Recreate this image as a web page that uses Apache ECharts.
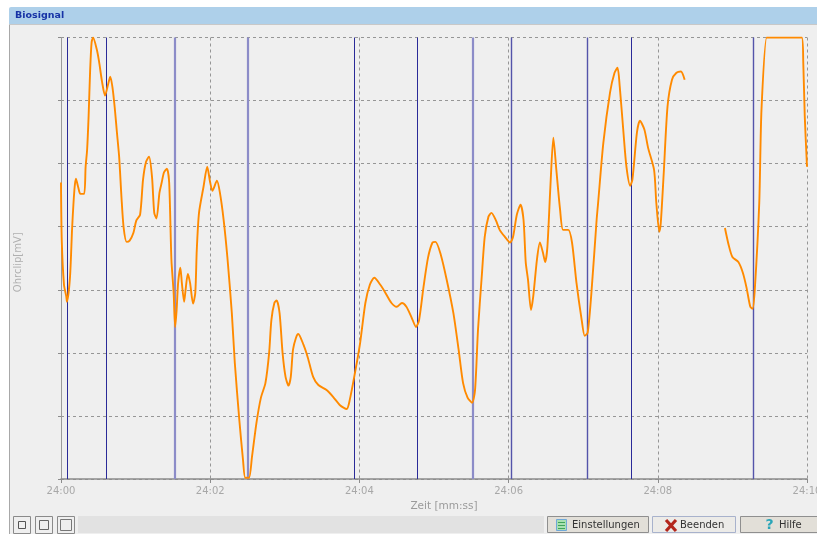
<!DOCTYPE html>
<html><head><meta charset="utf-8">
<style>html,body{margin:0;padding:0;background:#fff}#c{width:817px;height:534px}</style>
<script src="https://cdn.jsdelivr.net/npm/echarts@6/dist/echarts.min.js"></script>
</head><body><div id="c"></div>
<script>
const title = 'Biosignal';
const xAxisName = 'Zeit [mm:ss]';
const yAxisName = 'Ohrclip[mV]';
const buttonLabels = ['Einstellungen', 'Beenden', 'Hilfe'];
const timeSeconds = [
0,.01,.04,.07,.08,.12,.15,.18,.20,.23,.26,.31,.33,.35,.37,.39,.41,.43,.48,.51,.55,.59,.63,.66,.69,.72,.75,.78,.81,.84,.88,.92,.97,
1.01,1.06,1.10,1.14,1.18,1.22,1.25,1.28,1.32,1.35,1.38,1.42,1.45,1.48,1.51,1.53,1.55,1.57,1.60,1.62,1.65,1.67,1.70,1.73,1.77,1.80,1.82,1.85,1.91,1.96,
2.00,2.03,2.09,2.13,2.18,2.23,2.29,2.33,2.39,2.44,2.47,2.52,2.56,2.62,2.68,2.74,2.79,2.82,2.86,2.89,2.93,2.97,
3.01,3.05,3.08,3.11,3.15,3.18,3.25,3.31,3.38,3.45,3.56,3.65,3.74,3.83,3.87,3.94,
4.01,4.08,4.14,4.20,4.28,4.34,4.43,4.50,4.57,4.63,4.70,4.76,4.80,4.86,4.92,4.98,
5.02,5.09,5.17,5.26,5.33,5.39,5.45,5.51,5.55,5.59,5.64,5.68,5.73,5.77,5.83,5.88,5.95,
6.02,6.06,6.11,6.16,6.20,6.23,6.26,6.30,6.33,6.38,6.42,6.46,6.49,6.52,6.56,6.60,6.64,6.69,6.73,6.80,6.85,6.91,6.98,
7.02,7.06,7.11,7.18,7.20,7.27,7.36,7.42,7.46,7.49,7.54,7.58,7.63,7.66,7.72,7.76,7.82,7.87,7.95,7.98,
8.02,8.04,8.08,8.13,8.19,8.25,8.31,8.36,8.60,8.90,8.95,
9.00,9.08,9.14,9.19,9.24,9.27,9.30,9.36,9.39,9.46,9.50,9.93,9.95,9.97,10.00];
const ohrclip = [
4.70,3.79,3.08,2.90,2.81,3.19,4.00,4.59,4.76,4.63,4.52,4.52,4.95,5.22,5.75,6.46,6.92,7.00,6.81,6.62,6.30,6.08,6.25,6.38,6.21,5.89,5.49,5.10,4.48,3.98,3.76,3.78,3.90,
4.10,4.19,4.75,5.03,5.11,4.79,4.22,4.13,4.54,4.70,4.86,4.92,4.70,3.48,2.95,2.41,2.68,3.11,3.35,3.11,2.81,3.00,3.25,3.11,2.78,2.95,3.63,4.22,4.63,4.95,
4.70,4.57,4.73,4.54,4.11,3.52,2.63,1.84,0.94,0.30,0.02,0.02,0.35,0.89,1.29,1.52,2.00,2.52,2.79,2.83,2.63,2.00,
1.62,1.48,1.62,2.05,2.24,2.30,2.13,1.92,1.62,1.49,1.41,1.30,1.17,1.11,1.25,1.68,
2.16,2.79,3.08,3.19,3.08,2.97,2.79,2.73,2.79,2.73,2.56,2.41,2.52,3.05,3.51,3.75,
3.76,3.56,3.16,2.63,2.05,1.52,1.29,1.21,1.41,2.37,3.21,3.84,4.16,4.22,4.10,3.95,3.84,
3.75,3.84,4.19,4.35,4.11,3.43,3.16,2.68,2.89,3.48,3.75,3.59,3.44,3.68,4.63,5.41,4.90,4.27,3.95,3.95,3.75,3.11,2.52,
2.27,2.32,2.95,4.11,4.38,5.33,6.13,6.44,6.52,6.22,5.49,4.95,4.65,4.75,5.49,5.68,5.54,5.25,4.90,4.38,
3.92,4.06,4.86,5.90,6.33,6.44,6.46,6.33,null,3.98,3.71,
3.52,3.44,3.27,3.03,2.73,2.70,3.00,4.38,5.86,7.00,7.00,7.00,6.60,5.75,4.95];
const darkMarkers = [0.09, 0.60, 3.93, 4.78, 7.65];
const mediumMarkers = [6.04, 7.06, 9.28];
const lightMarkers = [1.53, 2.51, 5.52];

const chart = echarts.init(document.getElementById('c'), null, {renderer:'canvas'});
const FONT = '"DejaVu Sans", Verdana, sans-serif';
const markerSeries = (vals, color, width) => ({
  type:'line', data:[], silent:true, z:1,
  markLine:{silent:true, symbol:'none', animation:false, label:{show:false},
    lineStyle:{color, width, type:'solid', opacity:1},
    data:vals.map(v => ({xAxis:v}))}
});
function box(x,y,w,h,fill,stroke){return {type:'rect',silent:true,shape:{x:x+.5,y:y+.5,width:w,height:h},style:{fill,stroke,lineWidth:1}};}
function btnText(x,t){return {type:'text',silent:true,style:{x,y:525,text:t,fill:'#333',font:'10px '+FONT,textVerticalAlign:'middle'}};}
const g = [
  {type:'rect',silent:true,z:-10,shape:{x:9,y:24,width:808,height:510},style:{fill:'#efefef'}},
  {type:'line',silent:true,z:-9,shape:{x1:9.5,y1:24,x2:9.5,y2:534},style:{stroke:'#a8a8a8',lineWidth:1}},
  {type:'rect',silent:true,z:-9,shape:{x:9,y:7,width:808,height:17,r:[2,0,0,0]},style:{fill:'#aed0ea'}},
  {type:'line',silent:true,z:-9,shape:{x1:9,y1:24.5,x2:817,y2:24.5},style:{stroke:'#c8c8c8',lineWidth:1}},
  {type:'text',silent:true,style:{x:15,y:15.5,text:title,fill:'#1733a6',font:'bold 9.5px '+FONT,textVerticalAlign:'middle'}},
  box(13,516,17,17,'#efefef','#8a8a8a'), box(18,521,7,7,'#efefef','#555'),
  box(35,516,17,17,'#efefef','#8a8a8a'), box(39,520,9,9,'#efefef','#666'),
  box(57,516,17,17,'#efefef','#8a8a8a'), box(60,519,11,11,'#efefef','#777'),
  {type:'rect',silent:true,shape:{x:78,y:516,width:466,height:17},style:{fill:'#e2e2e2'}},
  box(547,516,101,16,'#e2dfd8','#8f8f8f'),
  box(652,516,83,16,'#ecebe8','#a8b2cc'),
  box(740,516,78,16,'#e2dfd8','#8f8f8f'),
  box(556,519,10,11,'#a8e0b0','#6fa8d8'),
  {type:'line',silent:true,shape:{x1:558,y1:522.5,x2:565,y2:522.5},style:{stroke:'#3fa35a'}},
  {type:'line',silent:true,shape:{x1:558,y1:525.5,x2:565,y2:525.5},style:{stroke:'#3fa35a'}},
  {type:'line',silent:true,shape:{x1:558,y1:528.5,x2:565,y2:528.5},style:{stroke:'#3fa35a'}},
  {type:'line',silent:true,shape:{x1:666,y1:520,x2:676,y2:531},style:{stroke:'#b3261c',lineWidth:3.2}},
  {type:'line',silent:true,shape:{x1:676,y1:520,x2:666,y2:531},style:{stroke:'#b3261c',lineWidth:3.2}},
  {type:'text',silent:true,style:{x:769.5,y:525,text:'?',fill:'#2aa6b8',font:'bold 14px '+FONT,textAlign:'center',textVerticalAlign:'middle'}},
  btnText(572,buttonLabels[0]), btnText(680,buttonLabels[1]), btnText(779,buttonLabels[2])
];
chart.setOption({
  animation:false,
  backgroundColor:'#ffffff',
  textStyle:{fontFamily:FONT},
  graphic:g,
  grid:{left:61,right:10,top:37.5,bottom:55,containLabel:false,outerBoundsMode:'none'},
  xAxis:{type:'value',min:0,max:10,interval:2,
    name:xAxisName,nameLocation:'middle',nameGap:21,
    nameTextStyle:{color:'#9a9a9a',fontSize:10.5,fontFamily:FONT,padding:[0,0,0,20]},
    axisLine:{show:true,onZero:false,lineStyle:{color:'#8c8c8c',width:1.5}},
    axisTick:{show:true,length:5,lineStyle:{color:'#8c8c8c',type:'dashed'}},
    axisLabel:{color:'#a8a8a8',fontSize:10,margin:7,hideOverlap:false,showMaxLabel:true,
      formatter:v => '24:' + String(v).padStart(2,'0')},
    splitLine:{show:true,lineStyle:{color:'#969696',type:[3,3],width:1}}},
  yAxis:{type:'value',min:0,max:7,interval:1,
    name:yAxisName,nameLocation:'middle',nameGap:38,nameRotate:90,
    nameTextStyle:{color:'#b0b0b0',fontSize:10,fontFamily:FONT,padding:[0,8,0,0]},
    axisLine:{show:true,onZero:false,lineStyle:{color:'#9a9a9a',width:1}},
    axisTick:{show:true,length:3,lineStyle:{color:'#8c8c8c'}},
    axisLabel:{show:false},
    splitLine:{show:true,lineStyle:{color:'#969696',type:[3,3],width:1}}},
  series:[
    markerSeries(lightMarkers,'#8c8cc8',2.2),
    markerSeries(mediumMarkers,'#5454aa',1.4),
    markerSeries(darkMarkers,'#2a2a98',1),
    {type:'line',name:yAxisName,z:5,showSymbol:false,symbol:'none',smooth:0.25,connectNulls:false,clip:true,
     lineStyle:{color:'#ff8a00',width:1.9},
     data:timeSeconds.map((t,i)=>[t,ohrclip[i]])}
  ]
});
</script></body></html>
